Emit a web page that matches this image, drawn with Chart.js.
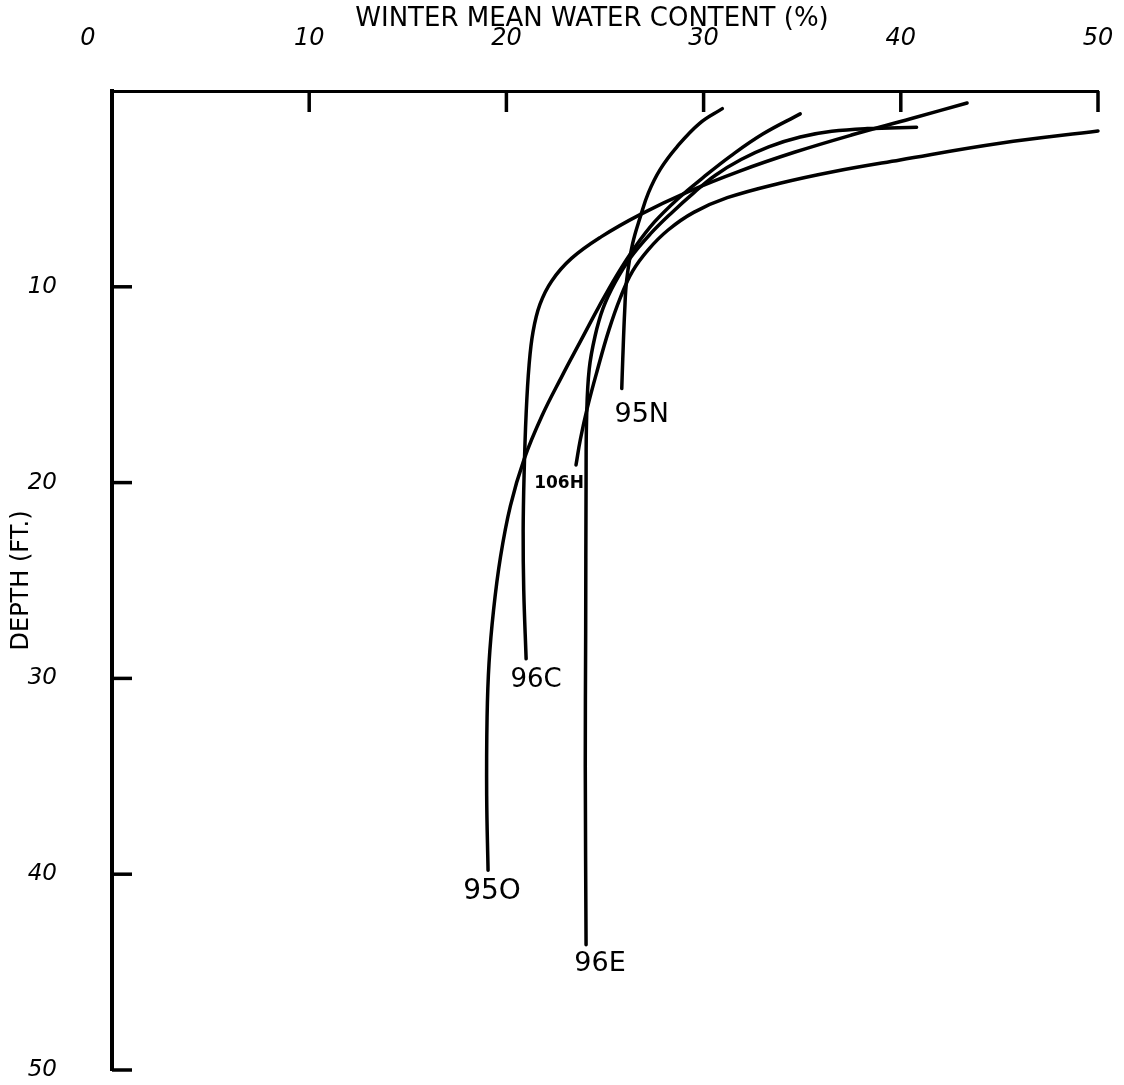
<!DOCTYPE html>
<html>
<head>
<meta charset="utf-8">
<script src="https://cdn.jsdelivr.net/npm/chart.js"></script>
<style>
  html, body { margin: 0; padding: 0; background: #fff; }
  canvas { display: block; }
</style>
</head>
<body>
<canvas id="chartCanvas" width="1124" height="1085" style="width:1124px;height:1085px"></canvas>
<script>
// Axis ticks
const waterTicks = [0, 10, 20, 30, 40, 50];
const depthTicks = [0, 10, 20, 30, 40, 50];

// Winter mean water content (%) against depth (ft), surface first
const depth95N = [0.9, 1.65, 2.85, 4.0, 5.2, 6.4, 7.8, 9.65, 11.2, 13.7, 15.2];
const water95N = [30.95, 29.8, 28.65, 27.8, 27.2, 26.8, 26.4, 26.1, 26.0, 25.9, 25.85];

const depth95O = [1.17, 2.2, 3.3, 4.4, 5.5, 6.7, 8.0, 9.4, 11.0, 12.7, 14.6, 16.6, 18.8, 21.2, 23.8, 26.5, 29.2, 32.0, 36.0, 39.8];
const water95O = [34.9, 33.0, 31.4, 30.0, 28.7, 27.5, 26.5, 25.6, 24.7, 23.8, 22.8, 21.8, 20.9, 20.2, 19.7, 19.35, 19.12, 19.02, 19.0, 19.07];

const depth96C = [0.61, 1.42, 2.25, 3.13, 4.1, 5.15, 6.3, 7.45, 8.55, 9.7, 10.9, 12.3, 14.0, 16.5, 19.5, 22.5, 25.5, 29.0];
const water96C = [43.36, 40.5, 37.5, 34.6, 31.8, 29.2, 26.8, 24.8, 23.3, 22.3, 21.7, 21.35, 21.15, 21.0, 20.9, 20.85, 20.88, 21.0];

const depth96E = [1.85, 1.92, 2.06, 2.35, 2.85, 3.5, 4.3, 5.2, 6.2, 7.3, 8.5, 9.8, 11.1, 12.5, 14.2, 16.6, 20.0, 27.7, 34.5, 43.6];
const water96E = [40.8, 38.3, 36.5, 34.9, 33.3, 31.9, 30.6, 29.5, 28.4, 27.3, 26.3, 25.5, 24.9, 24.5, 24.2, 24.07, 24.04, 24.02, 24.0, 24.04];

const depth106H = [2.04, 2.67, 3.52, 4.12, 4.71, 5.45, 6.2, 7.1, 8.1, 9.2, 10.5, 12.2, 14.3, 16.2, 17.8, 19.1];
const water106H = [50.0, 45.03, 39.96, 36.56, 33.87, 31.2, 29.5, 28.2, 27.2, 26.4, 25.8, 25.2, 24.6, 24.1, 23.75, 23.53];

const seriesNames = ['95N', '95O', '96C', '96E', '106H'];
const seriesDepths = [depth95N, depth95O, depth96C, depth96E, depth106H];
const seriesWater = [water95N, water95O, water96C, water96E, water106H];

// where each hand label sits relative to the bottom end of its curve (px)
const labelStyle = {
  '95N': { dx: 20, dy: 26, size: 27 },
  '95O': { dx: 4, dy: 21, size: 28 },
  '96C': { dx: 10, dy: 21, size: 26 },
  '96E': { dx: 14, dy: 19, size: 27 },
  '106H': { dx: -17, dy: 19, size: 17 }
};

const handFont = "'DejaVu Sans', sans-serif";

const datasets = seriesNames.map((name, i) => ({
  label: name,
  data: seriesDepths[i].map((d, j) => ({ x: seriesWater[i][j], y: d })),
  showLine: true,
  borderColor: '#000',
  borderWidth: 3.5,
  borderCapStyle: 'round',
  borderJoinStyle: 'round',
  pointRadius: 0,
  tension: 0.4,
  clip: false
}));

// tick marks drawn inward from the axes, like the original
const insideTicks = {
  id: 'insideTicks',
  afterDraw(chart) {
    const { ctx, chartArea: a, scales: { x, y } } = chart;
    ctx.save();
    ctx.strokeStyle = '#000';
    ctx.lineWidth = 3.5;
    x.ticks.forEach(t => {
      if (t.value === 0) return;
      const px = x.getPixelForValue(t.value);
      ctx.beginPath();
      ctx.moveTo(px, a.top);
      ctx.lineTo(px, a.top + 21);
      ctx.stroke();
    });
    y.ticks.forEach(t => {
      if (t.value === 0) return;
      const py = y.getPixelForValue(t.value);
      ctx.beginPath();
      ctx.moveTo(a.left, py);
      ctx.lineTo(a.left + 20, py);
      ctx.stroke();
    });
    ctx.restore();
  }
};

// curve names written under the lower end of each curve
const curveLabels = {
  id: 'curveLabels',
  afterDatasetsDraw(chart) {
    const { ctx, scales: { x, y } } = chart;
    ctx.save();
    ctx.fillStyle = '#000';
    ctx.textAlign = 'center';
    ctx.textBaseline = 'middle';
    chart.data.datasets.forEach(ds => {
      const s = labelStyle[ds.label];
      const last = ds.data[ds.data.length - 1];
      ctx.font = (ds.label === '106H' ? 'bold ' : '') + s.size + 'px ' + handFont;
      ctx.fillText(ds.label, x.getPixelForValue(last.x) + s.dx, y.getPixelForValue(last.y) + s.dy);
    });
    ctx.restore();
  }
};

const chartCanvas = document.getElementById('chartCanvas');
const chart = new Chart(chartCanvas, {
  type: 'scatter',
  data: { datasets },
  plugins: [insideTicks, curveLabels],
  options: {
    responsive: false,
    animation: false,
    layout: { padding: { top: 0, left: 0, right: 26, bottom: 15 } },
    plugins: {
      legend: { display: false },
      tooltip: { enabled: false }
    },
    scales: {
      x: {
        type: 'linear',
        position: 'top',
        min: 0,
        max: 50,
        afterBuildTicks: s => { s.ticks = waterTicks.map(v => ({ value: v })); },
        ticks: {
          color: '#000',
          padding: 38,
          maxRotation: 0,
          font: { family: handFont, size: 24, style: 'italic' },
          callback: v => v === 0 ? '0\u2003\u2003' : String(v)
        },
        grid: { display: false, drawTicks: false },
        border: { display: true, color: '#000', width: 3 },
        title: {
          display: true,
          text: 'WINTER MEAN WATER CONTENT (%)\u2003',
          color: '#000',
          font: { family: handFont, size: 26 },
          padding: { top: 4, bottom: 0 }
        },
        afterFit: s => { s.height = 91; s.paddingLeft = 0; s.paddingRight = 0; }
      },
      y: {
        type: 'linear',
        reverse: true,
        min: 0,
        max: 50,
        afterBuildTicks: s => { s.ticks = depthTicks.map(v => ({ value: v })); },
        ticks: {
          color: '#000',
          padding: 55,
          font: { family: handFont, size: 23, style: 'italic' },
          callback: v => v === 0 ? '' : String(v)
        },
        grid: { display: false, drawTicks: false },
        border: { display: true, color: '#000', width: 4 },
        title: {
          display: true,
          text: 'DEPTH (FT.)',
          color: '#000',
          font: { family: handFont, size: 24 },
          padding: { top: 7, bottom: 0 }
        },
        afterFit: s => { s.width = 112; s.paddingTop = 0; s.paddingBottom = 0; }
      }
    }
  }
});
</script>
</body>
</html>
